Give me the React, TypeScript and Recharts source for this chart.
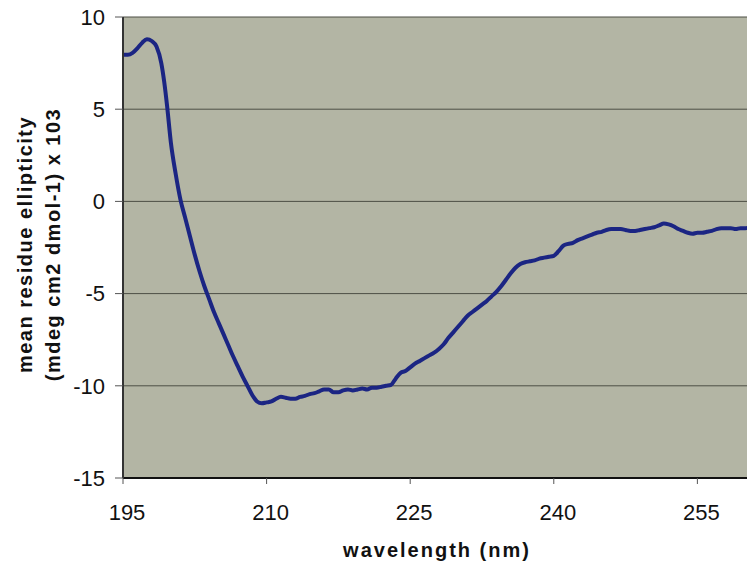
import React from "react";
import { LineChart, Line, XAxis, YAxis, CartesianGrid } from "recharts";

// CD spectrum
const wavelengths = [
  195, 195.5, 196, 196.5, 197, 197.5, 198, 198.5, 199, 199.3, 199.6, 200, 200.5, 201, 201.5, 202, 202.5, 203, 203.5,
  204, 204.5, 205, 205.5, 206, 206.5, 207, 207.5, 208, 208.5, 209, 209.5, 210, 210.5, 211, 211.5, 212, 212.5, 213,
  213.5, 214, 214.5, 215, 215.5, 216, 216.5, 217, 217.5, 218, 218.5, 219, 219.5, 220, 220.5, 221, 221.5, 222, 222.5,
  223, 223.5, 224, 224.5, 225, 225.5, 226, 226.5, 227, 227.5, 228, 228.5, 229, 229.5, 230, 230.5, 231, 231.5, 232,
  232.5, 233, 233.5, 234, 234.5, 235, 235.5, 236, 236.5, 237, 237.5, 238, 238.5, 239, 239.5, 240, 240.5, 241, 241.5,
  242, 242.5, 243, 243.5, 244, 244.5, 245, 245.5, 246, 246.5, 247, 247.5, 248, 248.5, 249, 249.5, 250, 250.5, 251,
  251.5, 252, 252.5, 253, 253.5, 254, 254.5, 255, 255.5, 256, 256.5, 257, 257.5, 258, 258.5, 259, 259.5, 260, 260.5,
];

const ellipticity = [
  7.95, 7.95, 8.05, 8.3, 8.6, 8.8, 8.7, 8.4, 7.5, 6.5, 5.2, 3.2, 1.5, 0.1, -0.9, -1.9, -2.9, -3.8, -4.6,
  -5.3, -6.0, -6.6, -7.2, -7.8, -8.4, -8.95, -9.5, -10.0, -10.5, -10.85, -10.95, -10.9, -10.85, -10.7, -10.6, -10.65, -10.7, -10.7,
  -10.6, -10.55, -10.45, -10.4, -10.3, -10.2, -10.2, -10.35, -10.35, -10.25, -10.2, -10.25, -10.2, -10.15, -10.2, -10.1, -10.1, -10.05, -10.0,
  -9.95, -9.6, -9.3, -9.2, -9.0, -8.8, -8.65, -8.5, -8.35, -8.2, -8.0, -7.75, -7.4, -7.1, -6.8, -6.5, -6.2, -6.0, -5.8,
  -5.6, -5.4, -5.15, -4.9, -4.6, -4.25, -3.9, -3.6, -3.4, -3.3, -3.25, -3.2, -3.1, -3.05, -3.0, -2.95, -2.7, -2.4, -2.3,
  -2.25, -2.1, -2.0, -1.9, -1.8, -1.7, -1.65, -1.55, -1.5, -1.5, -1.5, -1.55, -1.6, -1.6, -1.55, -1.5, -1.45, -1.4, -1.3,
  -1.2, -1.25, -1.35, -1.5, -1.6, -1.7, -1.75, -1.7, -1.7, -1.65, -1.6, -1.5, -1.45, -1.45, -1.45, -1.5, -1.45, -1.45, -1.4,
];

const xTicks = [195, 210, 225, 240, 255];
const yTicks = [-15, -10, -5, 0, 5, 10];

const data = wavelengths.map((wl, i) => ({ wl, mre: ellipticity[i] }));

const FONT = "'Liberation Sans', Arial, sans-serif";

function YTitle(props: any) {
  const vb = props.viewBox || {};
  const cy = (vb.y || 0) + (vb.height || 0) / 2 - 3;
  return (
    <g fontFamily={FONT} fontWeight="bold" fontSize={20} fill="#111" letterSpacing={1.5}>
      <text x={25} y={cy} textAnchor="middle" dominantBaseline="central" transform={`rotate(-90 25 ${cy})`}>
        mean residue ellipticity
      </text>
      <text x={53} y={cy} textAnchor="middle" dominantBaseline="central" transform={`rotate(-90 53 ${cy})`}>
        (mdeg cm2 dmol-1) x 103
      </text>
    </g>
  );
}

function XTitle(props: any) {
  const vb = props.viewBox || {};
  const cx = (vb.x || 0) + (vb.width || 0) / 2;
  return (
    <text x={cx} y={557} textAnchor="middle" fontFamily={FONT} fontWeight="bold" fontSize={20} fill="#111" letterSpacing={2}>
      wavelength (nm)
    </text>
  );
}

export default function App() {
  return (
    <div style={{ position: "fixed", left: 0, top: 0, width: 747, height: 565, overflow: "hidden", background: "#fff" }}>
      <LineChart width={751} height={565} data={data} margin={{ top: 17, right: 0, bottom: 0, left: 0 }}>
        <CartesianGrid vertical={false} stroke="#4d4f45" fill="#b3b5a4" fillOpacity={1} />
        <XAxis
          type="number"
          dataKey="wl"
          domain={[195, 260.6]}
          ticks={xTicks}
          height={87}
          axisLine={{ stroke: "#111", strokeWidth: 2 }}
          tickLine={{ stroke: "#555" }}
          tickSize={6}
          tickMargin={20}
          tick={{ fontFamily: FONT, fontSize: 22, fill: "#111", dx: 4 }}
          label={<XTitle />}
        />
        <YAxis
          type="number"
          domain={[-15, 10]}
          ticks={yTicks}
          width={123}
          axisLine={{ stroke: "#333", strokeWidth: 2 }}
          tickLine={{ stroke: "#555" }}
          tickSize={8}
          tickMargin={10}
          tick={{ fontFamily: FONT, fontSize: 22, fill: "#111" }}
          label={<YTitle />}
        />
        <Line
          type="monotone"
          dataKey="mre"
          stroke="#1b2583"
          strokeWidth={4}
          dot={false}
          isAnimationActive={false}
        />
      </LineChart>
    </div>
  );
}
